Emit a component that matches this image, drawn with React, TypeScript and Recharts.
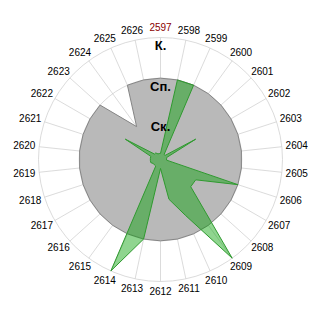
import { PolarAngleAxis, PolarGrid, PolarRadiusAxis, Radar, RadarChart } from "recharts";

const categories = [
  "2597", "2598", "2599", "2600", "2601", "2602", "2603", "2604", "2605", "2606",
  "2607", "2608", "2609", "2610", "2611", "2612", "2613", "2614", "2615", "2616",
  "2617", "2618", "2619", "2620", "2621", "2622", "2623", "2624", "2625", "2626"
];

// gray background series (level reached)
const grayValues = [
  2, 2, 2, 2, 2, 2, 2, 2, 2, 2,
  2, 2, 2, 2, 2, 2, 2, 2, 2, 2,
  2, 2, 2, 2, 2, 2, 2, 1, 2, 2
];

// green series
const greenValues = [
  0.15, 2, 2, 0.15, 0.15, 1, 0.16, 0.15, 0.15, 2,
  1, 1, 3, 1.5, 1, 0.22, 2, 3, 0.2, 0.2,
  0.2, 0.25, 0.25, 0.25, 0.25, 1, 0.2, 0.2, 0.15, 0.15
];

const levelLabels = ["", "Ск.", "Сп.", "К."];

const data = categories.map((name, i) => ({ name, gray: grayValues[i], green: greenValues[i] }));

const CX = 160.5;
const CY = 159.5;
const R = 122;
const FONT = "'Liberation Sans', Arial, sans-serif";

function AngleTick(props: any) {
  const value = String(props.payload.value);
  const i = categories.indexOf(value);
  const t = ((i * 360) / categories.length) * (Math.PI / 180);
  const s = Math.sin(t);
  const c = Math.cos(t);
  const x = CX + (R + 5) * s + 10 * s;
  const y = CY - (R + 5) * c - 5 * c;
  return (
    <text x={x} y={y} textAnchor="middle" dominantBaseline="central" fontSize={10} fontFamily={FONT} fill={i === 0 ? "#8b0000" : "#000"}>
      {value}
    </text>
  );
}

function RadiusTick(props: any) {
  const label = levelLabels[Number(props.payload.value)] ?? "";
  if (!label) return null;
  return (
    <text x={props.x} y={props.y + 8} textAnchor="middle" dominantBaseline="central" fontSize={13} fontWeight="bold" fontFamily={FONT} fill="#000">
      {label}
    </text>
  );
}

export default function App() {
  return (
    <div style={{ position: "absolute", left: 0, top: 0, width: 320, height: 320, background: "#fff" }}>
      <RadarChart width={320} height={320} data={data} cx={CX} cy={CY} outerRadius={R} margin={{ top: 0, right: 0, bottom: 0, left: 0 }}>
        <Radar dataKey="gray" fill="#b9b9b9" fillOpacity={1} stroke="#858585" strokeWidth={1} dot={false} isAnimationActive={false} />
        <Radar dataKey="green" fill="#00a000" fillOpacity={0.44} stroke="#2f9a2f" strokeWidth={1} dot={false} isAnimationActive={false} />
        <PolarGrid gridType="circle" stroke="#cccccc" strokeOpacity={0.7} />
        <PolarAngleAxis dataKey="name" tick={AngleTick} tickLine={false} axisLine={false} />
        <PolarRadiusAxis angle={90} domain={[0, 3]} tickCount={4} axisLine={false} tickLine={false} tick={RadiusTick} />
      </RadarChart>
    </div>
  );
}
